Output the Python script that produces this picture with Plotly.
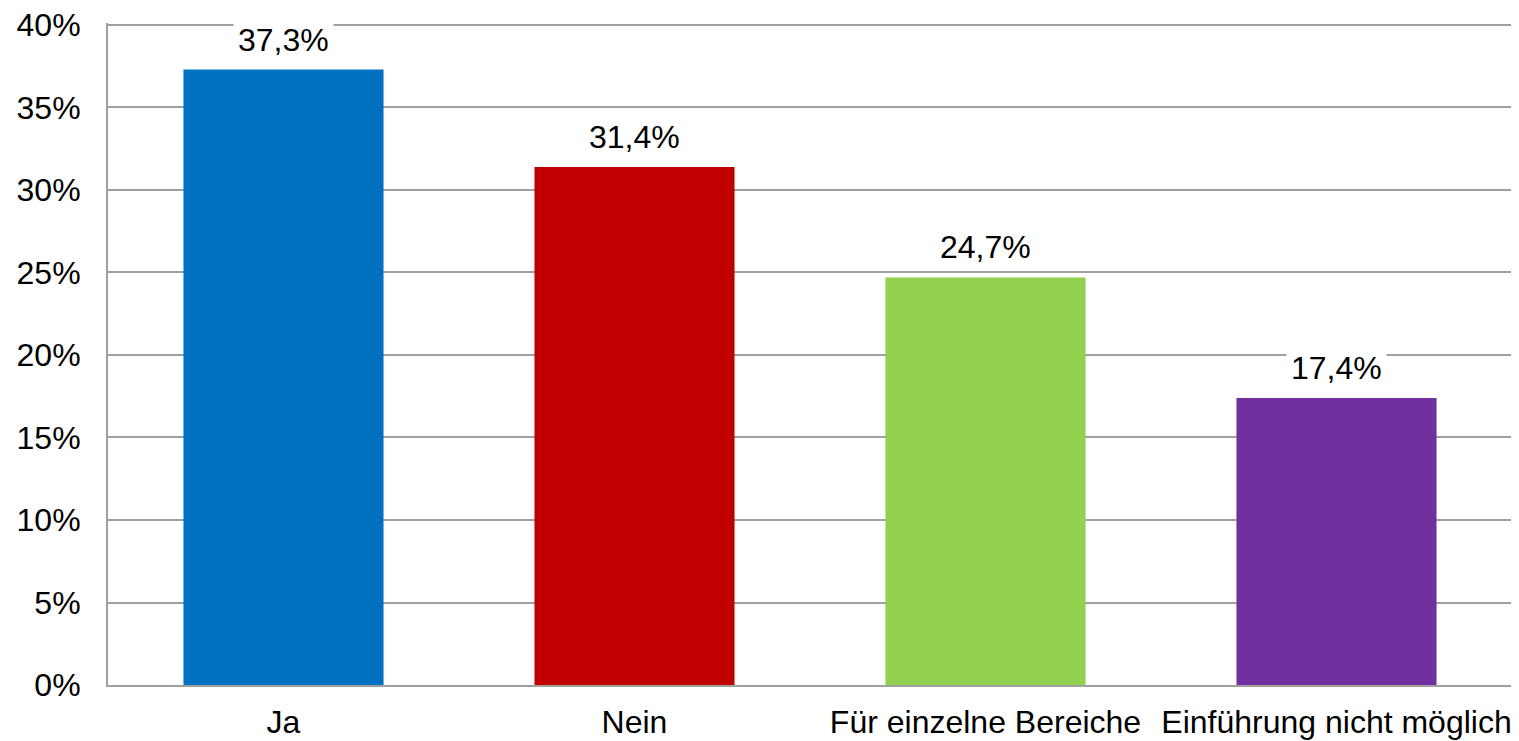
import plotly.graph_objects as go

categories = ["Ja", "Nein", "Für einzelne Bereiche", "Einführung nicht möglich"]
values = [37.3, 31.4, 24.7, 17.4]
colors = ["#0070C0", "#C00000", "#92D050", "#7030A0"]
y_ticks = [0, 5, 10, 15, 20, 25, 30, 35, 40]

font = dict(family="Liberation Sans, Arial, sans-serif", size=32, color="black")

fig = go.Figure()
fig.add_trace(
    go.Bar(
        x=categories,
        y=values,
        marker=dict(color=colors, line=dict(width=0)),
        hoverinfo="skip",
    )
)

# value labels with a white box that hides the gridline behind them
for cat, val in zip(categories, values):
    fig.add_annotation(
        x=cat,
        y=val,
        text=f"{val:.1f}%".replace(".", ","),
        showarrow=False,
        yanchor="bottom",
        yshift=7,
        bgcolor="white",
        borderpad=4,
        font=font,
    )

# page body has an 8px margin, so the figure is a bit smaller than the window
fig.update_layout(
    width=1511,
    height=733,
    margin=dict(l=100, r=7, t=15, b=56),
    paper_bgcolor="white",
    plot_bgcolor="white",
    font=font,
    bargap=0.43,
    showlegend=False,
)
fig.update_xaxes(
    automargin=False,
    showline=True,
    linecolor="#A0A0A0",
    linewidth=2,
    showgrid=False,
    ticks="",
    ticklabelstandoff=8,
)
fig.update_yaxes(
    automargin=False,
    # plotly drops gridlines within 1px of the edge, so leave ~2px above 40
    range=[0, 40.12],
    tickvals=y_ticks,
    ticktext=[f"{v}%" for v in y_ticks],
    ticklabeloverflow="allow",
    showgrid=True,
    gridcolor="#A0A0A0",
    gridwidth=2,
    showline=True,
    linecolor="#A0A0A0",
    linewidth=2,
    zeroline=False,
    ticks="",
    ticklabelstandoff=19,
)

fig.write_html("out.html")
